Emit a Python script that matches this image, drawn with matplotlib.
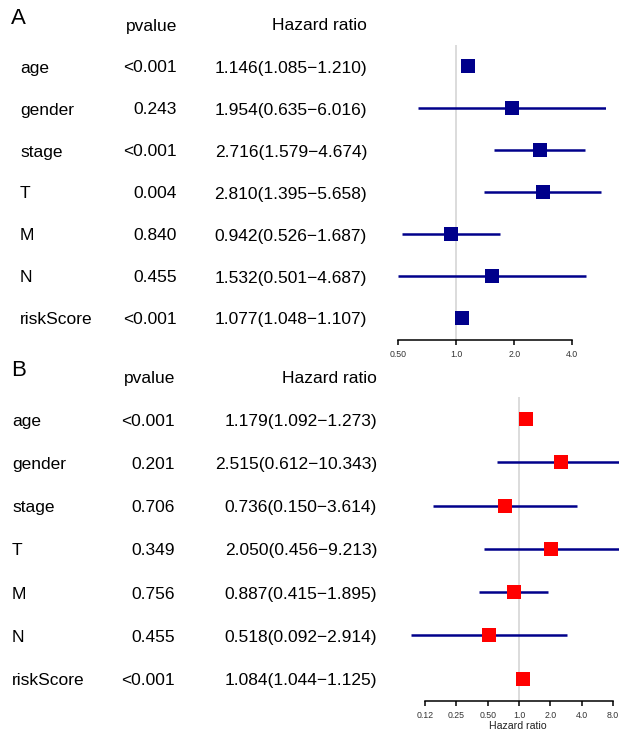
import numpy as np
import matplotlib
matplotlib.use("Agg")
import matplotlib.pyplot as plt
from matplotlib.transforms import blended_transform_factory, ScaledTranslation

plt.rcParams['font.family'] = ['Liberation Sans', 'DejaVu Sans']

W, H = 619, 734

# variables (same for both panels)
variables = ['age', 'gender', 'stage', 'T', 'M', 'N', 'riskScore']

# panel A
pval_a = ['<0.001', '0.243', '<0.001', '0.004', '0.840', '0.455', '<0.001']
hr_a = [1.146, 1.954, 2.716, 2.810, 0.942, 1.532, 1.077]
low_a = [1.085, 0.635, 1.579, 1.395, 0.526, 0.501, 1.048]
high_a = [1.210, 6.016, 4.674, 5.658, 1.687, 4.687, 1.107]
ticks_a = [0.5, 1, 2, 4]
ticklabels_a = ['0.50', '1.0', '2.0', '4.0']

# panel B
pval_b = ['<0.001', '0.201', '0.706', '0.349', '0.756', '0.455', '<0.001']
hr_b = [1.179, 2.515, 0.736, 2.050, 0.887, 0.518, 1.084]
low_b = [1.092, 0.612, 0.150, 0.456, 0.415, 0.092, 1.044]
high_b = [1.273, 10.343, 3.614, 9.213, 1.895, 2.914, 1.125]
ticks_b = [0.125, 0.25, 0.5, 1, 2, 4, 8]
ticklabels_b = ['0.12', '0.25', '0.50', '1.0', '2.0', '4.0', '8.0']

fig = plt.figure(figsize=(W / 100, H / 100), dpi=100)


def forest(letter, pval, hr, low, high, ticks, ticklabels, box_color,
           x_one, per_doubling, top, spine, row0, row_step,
           x_label, x_pval, x_hr, x_letter, y_letter, xlabel=None):
    # axes placed so that HR=1 sits at x_one pixels
    left = x_one + per_doubling * np.log2(min(low))
    right = x_one + per_doubling * np.log2(max(high))
    ax = fig.add_axes([left / W, 1 - spine / H, (right - left) / W, (spine - top) / H])
    ax.set_xscale('log', base=2)
    ax.set_xlim(min(low), max(high))
    ax.set_ylim((spine - row0) / row_step, (top - row0) / row_step)
    n = len(hr)
    y = np.arange(n)

    ax.axvline(1, color='#d6d6d6', lw=1.2, zorder=0)
    ax.hlines(y, low, high, color='#00008B', lw=1.8, zorder=2)
    ax.plot(hr, y, 's', color=box_color, markersize=10, markeredgewidth=0, zorder=3)

    for s in ['top', 'right', 'left']:
        ax.spines[s].set_visible(False)
    ax.spines['bottom'].set_bounds(ticks[0], ticks[-1])
    ax.spines['bottom'].set_linewidth(1.1)
    ax.set_yticks([])
    ax.set_xticks(ticks)
    ax.set_xticklabels(ticklabels)
    ax.minorticks_off()
    ax.tick_params(axis='x', length=3.6, width=1.1, labelsize=6.3,
                   pad=3.5, labelcolor='#333333')
    if xlabel:
        ax.set_xlabel(xlabel, fontsize=7.6, labelpad=1.0, color='#222222')

    # text columns: x in figure pixels, y on the row scale, nudged 2px down
    tr = blended_transform_factory(fig.transFigure, ax.transData) + \
        ScaledTranslation(0, -2 / 100, fig.dpi_scale_trans)
    fs = 12.5
    ax.text(x_pval / W, -1, 'pvalue', transform=tr, ha='right', va='center',
            fontsize=fs, clip_on=False)
    ax.text(x_hr / W, -1, 'Hazard ratio', transform=tr, ha='right', va='center',
            fontsize=fs, clip_on=False)
    for i in range(n):
        ax.text(x_label / W, i, variables[i], transform=tr, ha='left', va='center',
                fontsize=fs, clip_on=False)
        ax.text(x_pval / W, i, pval[i], transform=tr, ha='right', va='center',
                fontsize=fs, clip_on=False)
        txt = f"{hr[i]:.3f}({low[i]:.3f}\u2212{high[i]:.3f})"
        ax.text(x_hr / W, i, txt, transform=tr, ha='right', va='center',
                fontsize=fs, clip_on=False)
    fig.text(x_letter / W, 1 - y_letter / H, letter, ha='center', va='center',
             fontsize=16)
    return ax


forest('A', pval_a, hr_a, low_a, high_a, ticks_a, ticklabels_a, '#00008B',
       x_one=456, per_doubling=58.1, top=45, spine=340, row0=66, row_step=42,
       x_label=20, x_pval=177, x_hr=367, x_letter=18, y_letter=19)

forest('B', pval_b, hr_b, low_b, high_b, ticks_b, ticklabels_b, '#FF0000',
       x_one=519, per_doubling=31.3, top=397, spine=701, row0=419.3, row_step=43.2,
       x_label=12, x_pval=175, x_hr=377, x_letter=19, y_letter=371,
       xlabel='Hazard ratio')

fig.savefig('out.png', dpi=100)
